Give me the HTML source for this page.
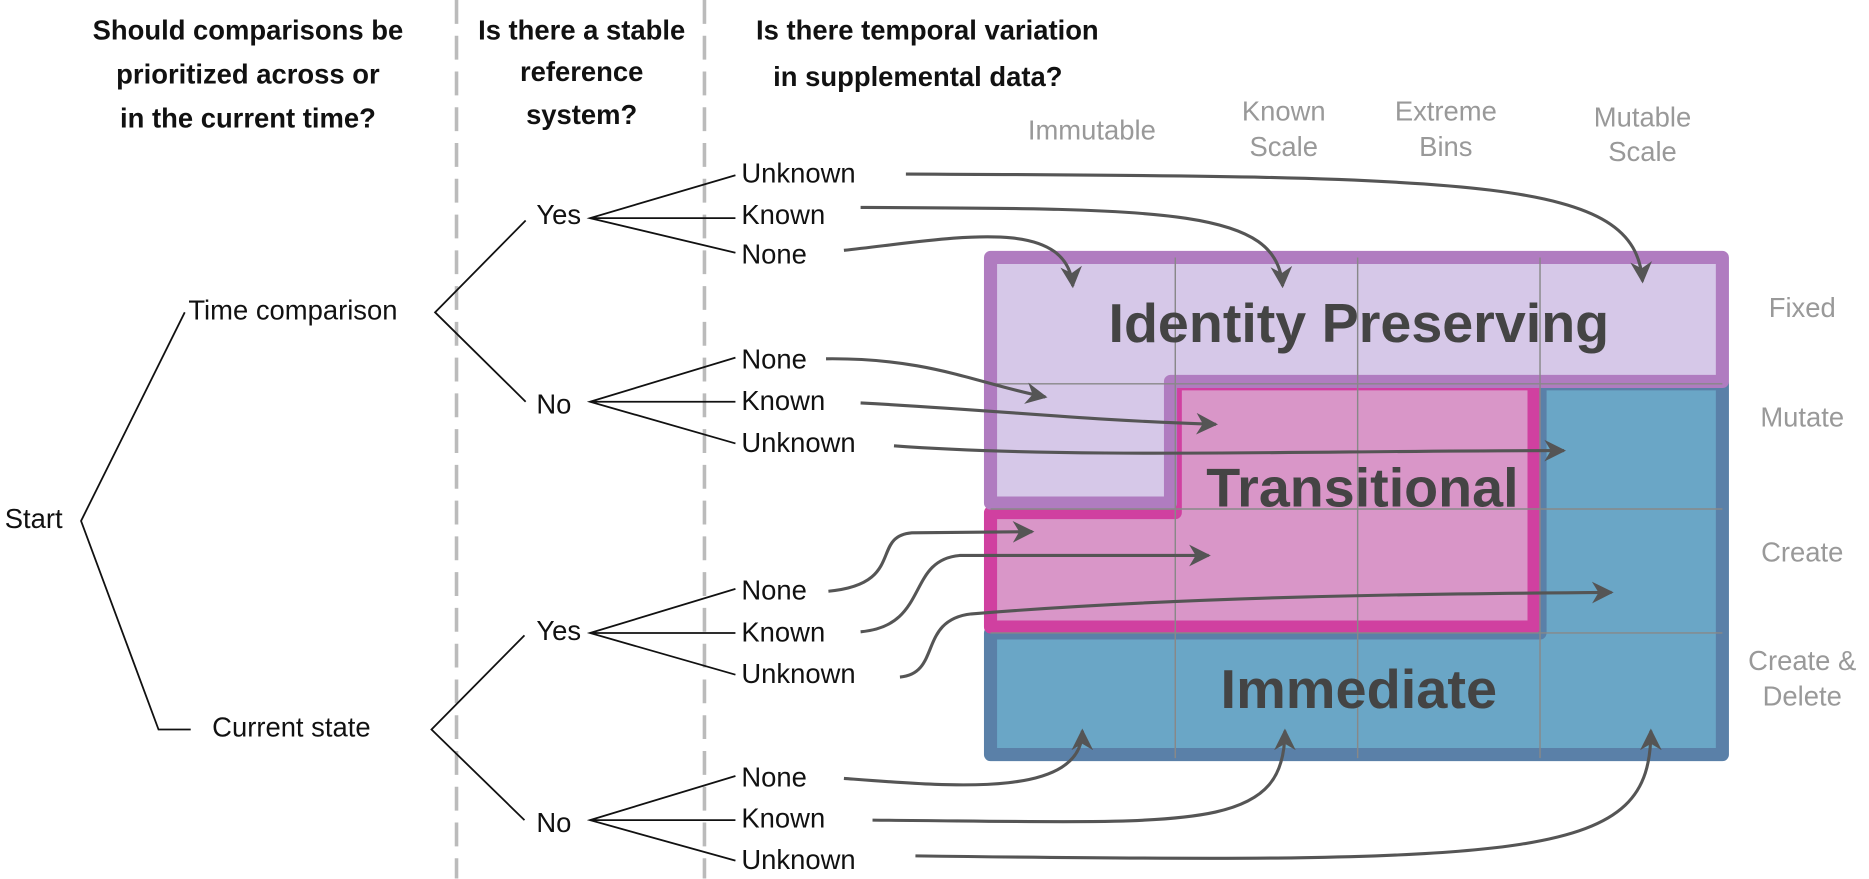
<!DOCTYPE html>
<html><head><meta charset="utf-8"><style>html,body{margin:0;padding:0;background:#fff}svg{display:block}</style></head><body>
<svg width="1869" height="879" viewBox="0 0 1568 737.4" preserveAspectRatio="none" xmlns="http://www.w3.org/2000/svg" font-family="Liberation Sans, sans-serif">
<defs><marker id="a" viewBox="0 0 10 10" refX="9" refY="5" markerWidth="7" markerHeight="7" orient="auto"><path d="M0,0 L10,5 L0,10 L3,5 z" fill="#555"/></marker></defs>
<path d="M1292,322 H1445 V633 H831 V531 H1292 Z" fill="#6aa6c6" stroke="#5a80a8" stroke-width="11" stroke-linejoin="round"/>
<path d="M986,322 H1287 V526 H831 V430 H986 Z" fill="#d996c8" stroke="#d040a0" stroke-width="11" stroke-linejoin="round"/>
<path d="M831,216 H1445 V320 H982 V422 H831 Z" fill="#d6c8e8" stroke="#b07cc0" stroke-width="11" stroke-linejoin="round"/>
<g stroke="#888" stroke-width="1.2">
<line x1="986" y1="216" x2="986" y2="636"/><line x1="1139" y1="216" x2="1139" y2="636"/><line x1="1292" y1="216" x2="1292" y2="636"/>
<line x1="831" y1="322" x2="1445" y2="322"/><line x1="831" y1="427" x2="1445" y2="427"/><line x1="831" y1="531" x2="1445" y2="531"/>
</g>
<g font-weight="bold" fill="#444" font-size="46" text-anchor="middle">
<text x="1140" y="287" textLength="420" lengthAdjust="spacingAndGlyphs">Identity Preserving</text>
<text x="1143" y="425" textLength="262" lengthAdjust="spacingAndGlyphs">Transitional</text>
<text x="1140" y="594" textLength="232" lengthAdjust="spacingAndGlyphs">Immediate</text>
</g>
<g stroke="#bbb" stroke-width="3" stroke-dasharray="20 10"><line x1="383" y1="0" x2="383" y2="737"/><line x1="591" y1="0" x2="591" y2="737"/></g>
<g font-weight="bold" font-size="23" fill="#111" text-anchor="middle">
<text x="208" y="33">Should comparisons be</text><text x="208" y="70">prioritized across or</text><text x="208" y="107">in the current time?</text>
<text x="488" y="33">Is there a stable</text><text x="488" y="68">reference</text><text x="488" y="104">system?</text>
<text x="778" y="33">Is there temporal variation</text><text x="770" y="72">in supplemental data?</text>
</g>
<g font-size="23" fill="#999" text-anchor="middle">
<text x="916" y="117">Immutable</text><text x="1077" y="101">Known</text><text x="1077" y="131">Scale</text>
<text x="1213" y="101">Extreme</text><text x="1213" y="131">Bins</text>
<text x="1378" y="106">Mutable</text><text x="1378" y="135">Scale</text>
<text x="1512" y="266">Fixed</text><text x="1512" y="358">Mutate</text><text x="1512" y="471">Create</text><text x="1512" y="562">Create &amp;</text><text x="1512" y="592">Delete</text>
</g>
<g stroke="#111" stroke-width="1.5" fill="none">
<path d="M155,262 L68,437 L133,612 L160,612"/>
<path d="M441,185 L365,262 L441,337"/>
<path d="M617,147 L495,183 L617,212 M495,183 H617"/>
<path d="M617,300 L495,337 L617,372 M495,337 H617"/>
<path d="M440,533 L362,612 L440,688"/>
<path d="M617,494 L495,531 L617,566 M495,531 H617"/>
<path d="M617,651 L495,688 L617,722 M495,688 H617"/>
</g>
<g font-size="23" fill="#111">
<text x="4" y="443">Start</text><text x="158" y="268">Time comparison</text><text x="178" y="618">Current state</text>
<text x="450" y="188">Yes</text><text x="450" y="347">No</text><text x="450" y="537">Yes</text><text x="450" y="698">No</text>
<text x="622" y="153">Unknown</text><text x="622" y="188">Known</text><text x="622" y="221">None</text>
<text x="622" y="309">None</text><text x="622" y="344">Known</text><text x="622" y="379">Unknown</text>
<text x="622" y="503">None</text><text x="622" y="538">Known</text><text x="622" y="573">Unknown</text>
<text x="622" y="660">None</text><text x="622" y="694">Known</text><text x="622" y="729">Unknown</text>
</g>
<g stroke="#555" stroke-width="2.6" fill="none" marker-end="url(#a)">
<path d="M760,146 C1250,148 1372,150 1378,236"/>
<path d="M722,174 C980,175 1072,175 1076,240"/>
<path d="M708,210 C800,200 895,180 900,240"/>
<path d="M693,301 C780,300 820,322 877,333"/>
<path d="M722,338 C850,345 900,352 1020,356"/>
<path d="M750,374 C900,385 1100,378 1312,378"/>
<path d="M695,496 C760,490 730,450 765,447 L866,446"/>
<path d="M722,530 C780,525 760,470 805,466 L1014,466"/>
<path d="M755,568 C790,565 770,520 815,515 C1000,500 1200,498 1352,497"/>
<path d="M708,653 C800,660 908,670 908,613"/>
<path d="M732,688 C1000,690 1078,700 1078,613"/>
<path d="M768,718 C1300,725 1385,720 1385,613"/>
</g>
</svg>
</body></html>
